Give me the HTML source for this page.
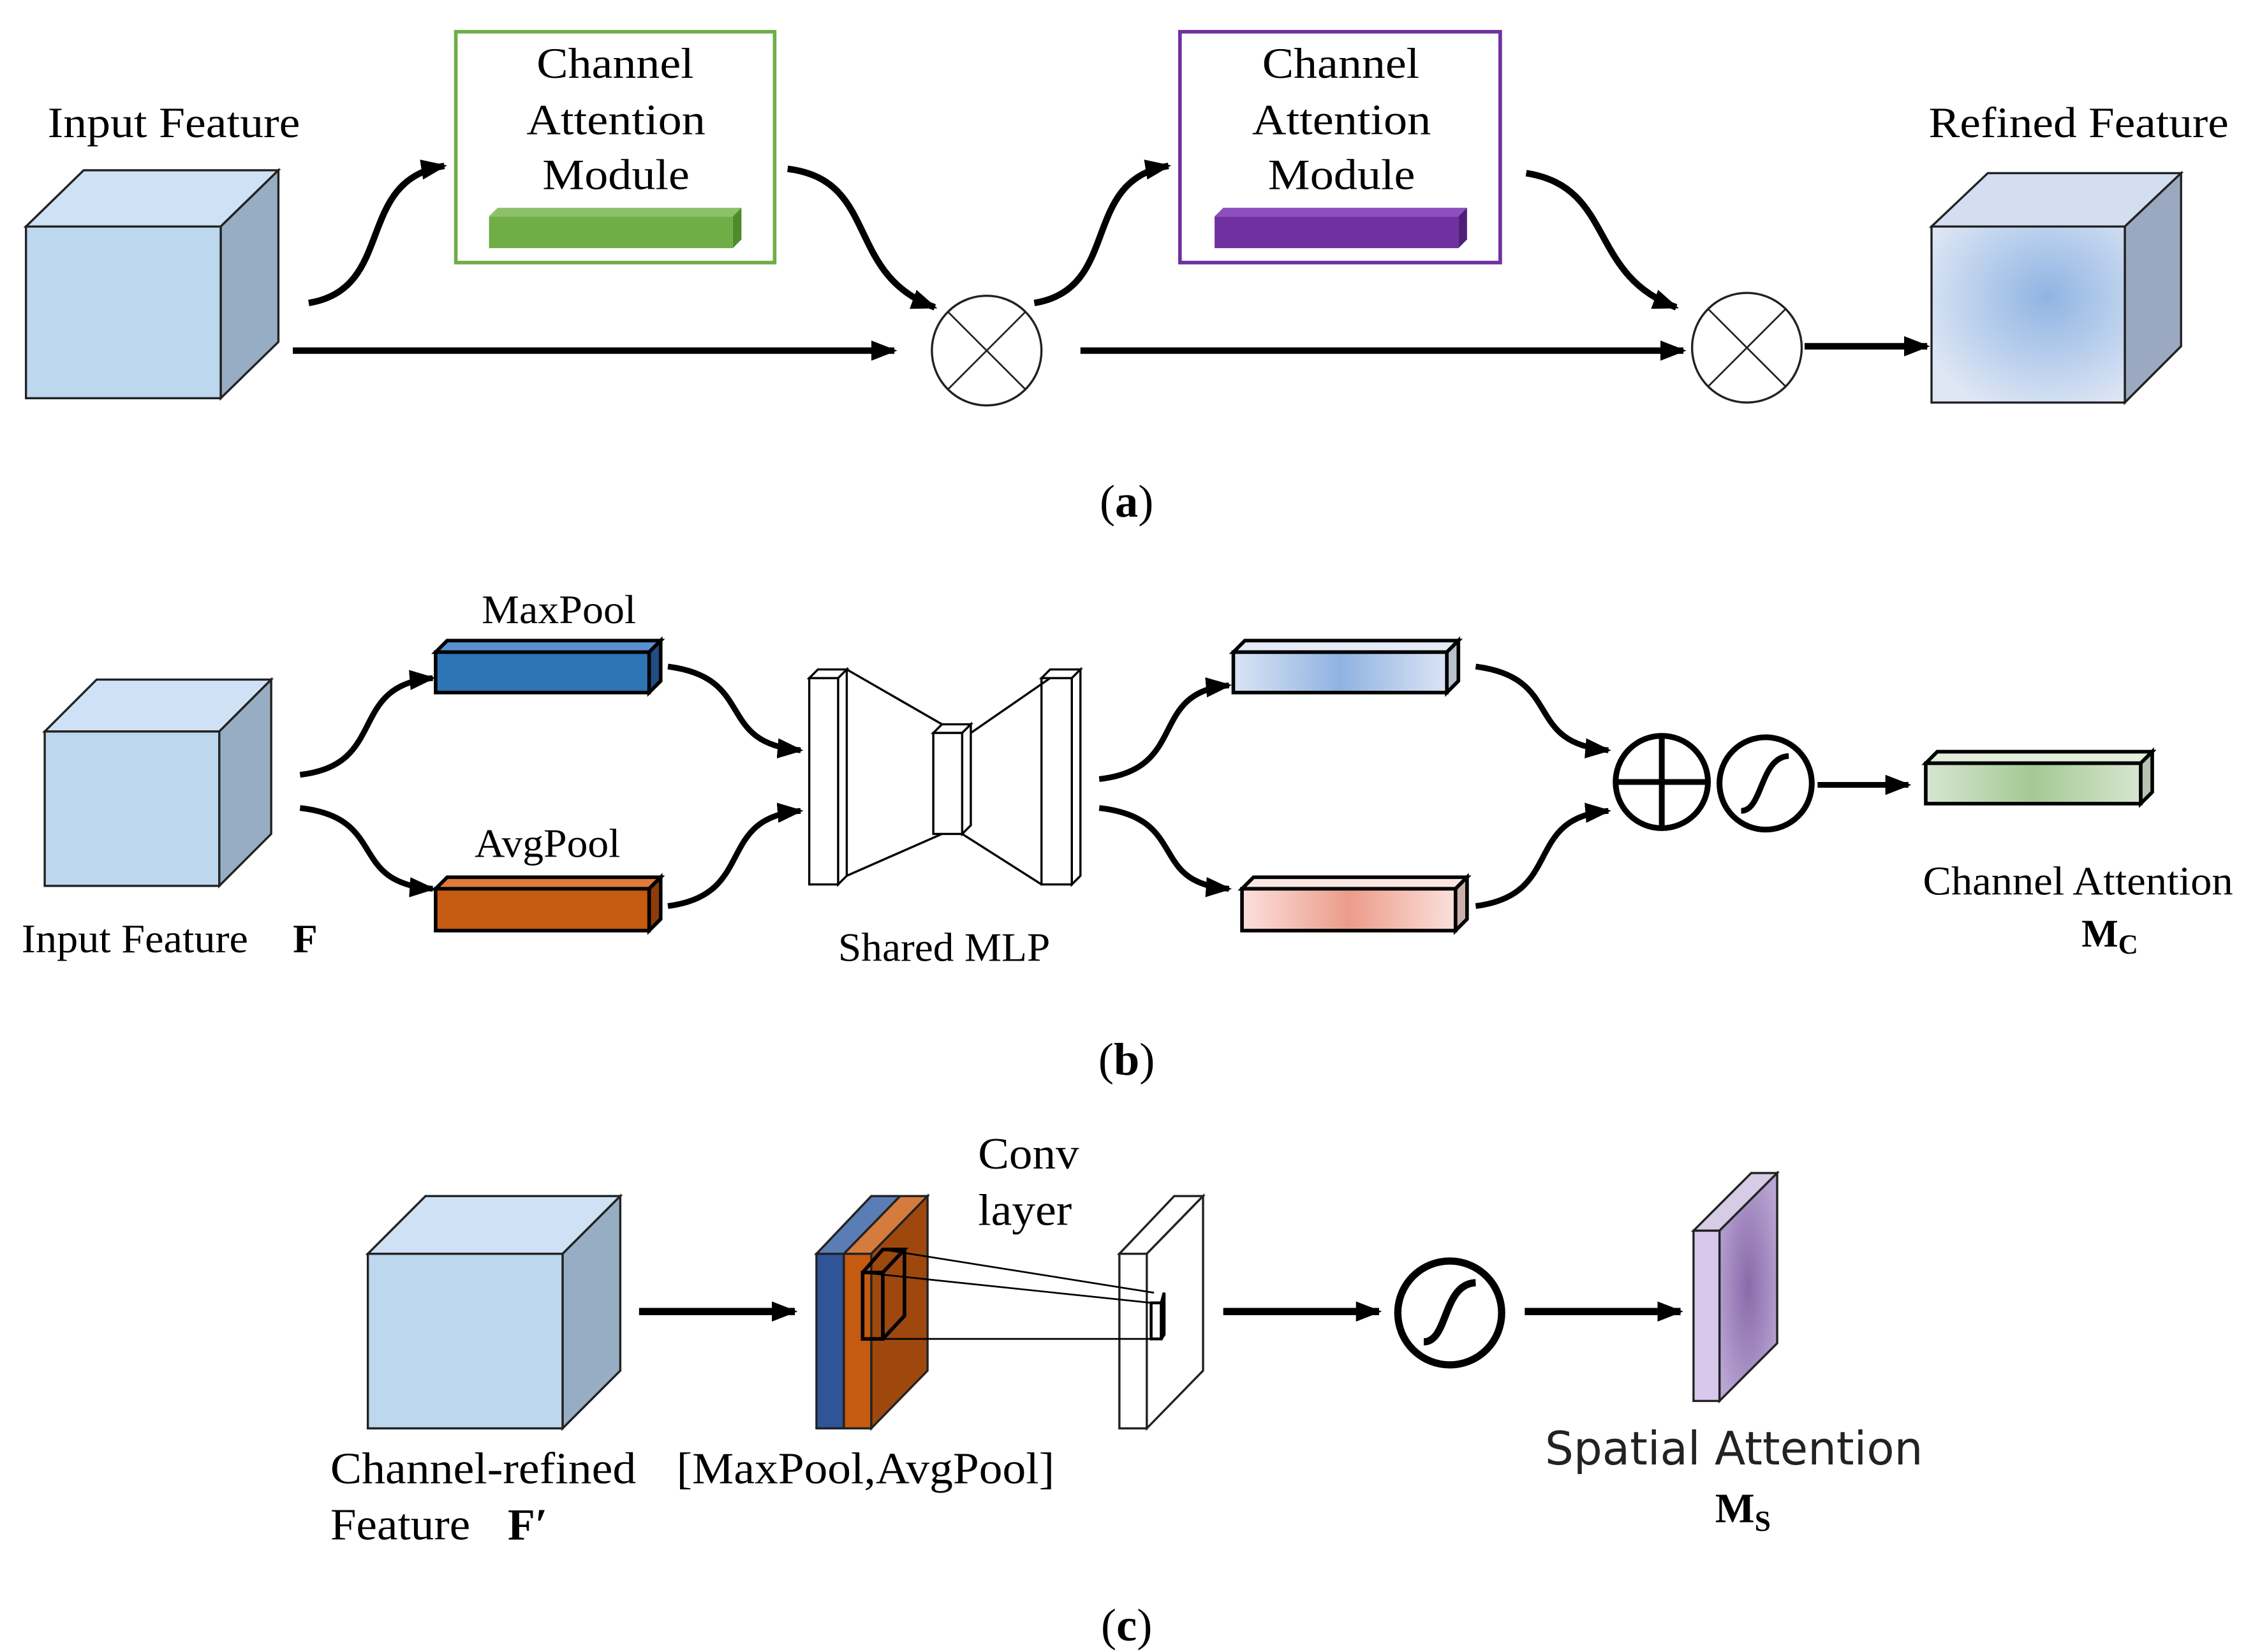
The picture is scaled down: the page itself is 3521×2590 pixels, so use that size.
<!DOCTYPE html>
<html><head><style>html,body{margin:0;padding:0;background:#fff;}svg{display:block}</style></head>
<body>
<svg width="3521" height="2590" viewBox="0 0 1557 1145" preserveAspectRatio="none" xmlns="http://www.w3.org/2000/svg" font-family="'Liberation Serif',serif">
<defs>
<marker id="ah" markerWidth="18" markerHeight="14" refX="16" refY="7" orient="auto" markerUnits="userSpaceOnUse"><path d="M0,0 L18,7 L0,14 Z" fill="#000"/></marker>
<radialGradient id="rf" cx="0.6" cy="0.4" r="0.7"><stop offset="0" stop-color="#8fb4e3"/><stop offset="1" stop-color="#dfe7f5"/></radialGradient>
<linearGradient id="gb" x1="0" x2="1"><stop offset="0" stop-color="#dbe4f4"/><stop offset="0.5" stop-color="#8fb2e2"/><stop offset="1" stop-color="#dbe4f4"/></linearGradient>
<linearGradient id="gp" x1="0" x2="1"><stop offset="0" stop-color="#fbe0dc"/><stop offset="0.5" stop-color="#ec9c8a"/><stop offset="1" stop-color="#fbe0dc"/></linearGradient>
<linearGradient id="gg" x1="0" x2="1"><stop offset="0" stop-color="#d6e6d0"/><stop offset="0.5" stop-color="#a4c994"/><stop offset="1" stop-color="#d6e6d0"/></linearGradient>
<radialGradient id="gv" cx="0.5" cy="0.5" r="0.6"><stop offset="0" stop-color="#8a6aaa"/><stop offset="1" stop-color="#b9a5d3"/></radialGradient>
</defs>
<g stroke="#222" stroke-width="1.5">
<polygon points="18,157 58,118 193,118 153,157" fill="#cfe1f4"/>
<polygon points="153,157 193,118 193,237 153,276" fill="#97adc3"/>
<rect x="18" y="157" width="135" height="119" fill="#bdd7ee"/>
<polygon points="1339,157 1378,120 1512,120 1473,157" fill="#d3def1"/>
<polygon points="1473,157 1512,120 1512,240 1473,279" fill="#9aa9c0"/>
<rect x="1339" y="157" width="134" height="122" fill="url(#rf)"/>
</g>
<g lengthAdjust="spacingAndGlyphs">
<text x="33" y="95" font-size="30" textLength="175" lengthAdjust="spacingAndGlyphs">Input Feature</text>
<text x="1337" y="95" font-size="30" textLength="208" lengthAdjust="spacingAndGlyphs">Refined Feature</text>
</g>
<rect x="316" y="22" width="221" height="160" fill="none" stroke="#70ad47" stroke-width="2.5"/>
<rect x="818" y="22" width="222" height="160" fill="none" stroke="#7030a0" stroke-width="2.5"/>
<g font-size="30">
<text x="372" y="54" textLength="109" lengthAdjust="spacingAndGlyphs">Channel</text><text x="365" y="93" textLength="124" lengthAdjust="spacingAndGlyphs">Attention</text><text x="376" y="131" textLength="102" lengthAdjust="spacingAndGlyphs">Module</text>
<text x="875" y="54" textLength="109" lengthAdjust="spacingAndGlyphs">Channel</text><text x="868" y="93" textLength="124" lengthAdjust="spacingAndGlyphs">Attention</text><text x="879" y="131" textLength="102" lengthAdjust="spacingAndGlyphs">Module</text></g>
<polygon points="339,150 345,144 514,144 508,150" fill="#8cc16a"/><polygon points="508,150 514,144 514,166 508,172" fill="#4f8a2d"/><rect x="339" y="150" width="169" height="22" fill="#70ad47"/>
<polygon points="842,150 848,144 1017,144 1011,150" fill="#8d4fbd"/><polygon points="1011,150 1017,144 1017,166 1011,172" fill="#4f1f78"/><rect x="842" y="150" width="169" height="22" fill="#7030a0"/>
<g fill="#fff" stroke="#222" stroke-width="1.5">
<circle cx="684" cy="243" r="38"/><circle cx="1211" cy="241" r="38"/></g>
<g stroke="#222" stroke-width="1.2"><path d="M657,216 L711,270 M711,216 L657,270"/><path d="M1184,214 L1238,268 M1238,214 L1184,268"/></g>
<g stroke="#000" stroke-width="4.5" fill="none" marker-end="url(#ah)">
<path d="M203,243 L620,243"/><path d="M749,243 L1167,243"/><path d="M1251,240 L1336,240"/>
<path d="M214,210 C275,200 245,125 308,115"/>
<path d="M546,117 C610,125 585,190 648,213"/>
<path d="M717,210 C778,200 748,125 810,115"/>
<path d="M1058,120 C1120,130 1100,190 1162,213"/>
</g>
<text x="781" y="358" font-size="32" text-anchor="middle">(<tspan font-weight="bold">a</tspan>)</text>

<!-- (b) -->
<g stroke="#222" stroke-width="1.5">
<polygon points="31,507 67,471 188,471 152,507" fill="#cfe1f4"/>
<polygon points="152,507 188,471 188,578 152,614" fill="#97adc3"/>
<rect x="31" y="507" width="121" height="107" fill="#bdd7ee"/>
</g>
<text x="15" y="660" font-size="28" textLength="157" lengthAdjust="spacingAndGlyphs">Input Feature</text><text x="203" y="660" font-size="28" font-weight="bold">F</text>
<g stroke="#000" stroke-width="2.5">
<polygon points="302,452 310,444 458,444 450,452" fill="#5b8fd0"/><polygon points="450,452 458,444 458,472 450,480" fill="#1f4e85"/><rect x="302" y="452" width="148" height="28" fill="#2e75b6"/>
<polygon points="302,616 310,608 458,608 450,616" fill="#df7a3a"/><polygon points="450,616 458,608 458,637 450,645" fill="#8e3d0a"/><rect x="302" y="616" width="148" height="29" fill="#c55a11"/>
<polygon points="855,452 863,444 1011,444 1003,452" fill="#e4eaf6"/><polygon points="1003,452 1011,444 1011,472 1003,480" fill="#b8c0cc"/><rect x="855" y="452" width="148" height="28" fill="url(#gb)"/>
<polygon points="861,616 869,608 1017,608 1009,616" fill="#fbe6e2"/><polygon points="1009,616 1017,608 1017,637 1009,645" fill="#c9b0aa"/><rect x="861" y="616" width="148" height="29" fill="url(#gp)"/>
<polygon points="1335,529 1343,521 1492,521 1484,529" fill="#e3eedd"/><polygon points="1484,529 1492,521 1492,549 1484,557" fill="#b8c4b3"/><rect x="1335" y="529" width="149" height="28" fill="url(#gg)"/>
</g>
<text x="334" y="432" font-size="28" textLength="107" lengthAdjust="spacingAndGlyphs">MaxPool</text>
<text x="329" y="594" font-size="28" textLength="101" lengthAdjust="spacingAndGlyphs">AvgPool</text>
<g stroke="#000" stroke-width="1.5" fill="#fff">
<polygon points="561,470 567,464 587,464 581,470" /><polygon points="581,470 587,464 587,607 581,613"/><rect x="561" y="470" width="20" height="143"/>
<polygon points="647,508 653,502 673,502 667,508"/><polygon points="667,508 673,502 673,572 667,578"/><rect x="647" y="508" width="20" height="70"/>
<polygon points="722,470 728,464 749,464 743,470"/><polygon points="743,470 749,464 749,607 743,613"/><rect x="722" y="470" width="21" height="143"/>
<path d="M587,464 L653,502 M587,607 L653,578 M673,508 L728,470 M667,578 L722,613" fill="none"/>
</g>
<text x="581" y="666" font-size="28" textLength="147" lengthAdjust="spacingAndGlyphs">Shared MLP</text>
<g stroke="#000" stroke-width="4" fill="none" marker-end="url(#ah)">
<path d="M208,537 C270,530 240,475 300,470"/>
<path d="M208,560 C270,567 240,612 300,616"/>
<path d="M463,462 C525,470 495,515 555,520"/>
<path d="M463,628 C525,620 495,567 555,562"/>
<path d="M762,540 C825,533 795,480 852,475"/>
<path d="M762,560 C825,567 795,612 852,616"/>
<path d="M1023,462 C1085,470 1055,515 1115,520"/>
<path d="M1023,628 C1085,620 1055,567 1115,562"/>
<path d="M1260,544 L1323,544"/>
</g>
<g stroke="#000" stroke-width="4" fill="none">
<circle cx="1152" cy="542" r="32"/><path d="M1120,542 L1184,542 M1152,510 L1152,574"/>
<circle cx="1224" cy="543" r="32"/><path d="M1207,562 C1222,562 1220,525 1240,524"/>
</g>
<text x="1333" y="620" font-size="28" textLength="215" lengthAdjust="spacingAndGlyphs">Channel Attention</text>
<text x="1443" y="656" font-size="27" font-weight="bold">M<tspan font-size="19" dy="5">C</tspan></text>
<text x="781" y="745" font-size="32" text-anchor="middle">(<tspan font-weight="bold">b</tspan>)</text>

<!-- (c) -->
<g stroke="#222" stroke-width="1.5">
<polygon points="255,869 295,829 430,829 390,869" fill="#cfe1f4"/>
<polygon points="390,869 430,829 430,950 390,990" fill="#97adc3"/>
<rect x="255" y="869" width="135" height="121" fill="#bdd7ee"/>
<polygon points="566,869 604,829 624,829 585,869" fill="#5a7db5"/>
<rect x="566" y="869" width="19" height="121" fill="#2f5597"/>
<polygon points="585,869 624,829 643,829 604,869" fill="#d67b3e"/>
<polygon points="604,869 643,829 643,950 604,990" fill="#9e480e"/>
<rect x="585" y="869" width="19" height="121" fill="#c55a11"/>
<polygon points="776,869 814,829 834,829 795,869" fill="#fff"/>
<polygon points="795,869 834,829 834,950 795,990" fill="#fff"/>
<rect x="776" y="869" width="19" height="121" fill="#fff"/>
<polygon points="1174,853 1192,853 1232,813 1214,813" fill="#d6cce6"/>
<polygon points="1192,853 1232,813 1232,931 1192,971" fill="url(#gv)"/>
<rect x="1174" y="853" width="18" height="118" fill="#d8c9ec"/>
</g>
<g stroke="#000" fill="none">
<path d="M598,882 L612,882 L612,928 L598,928 Z M598,882 L612,866 L627,866 L612,882 M627,866 L627,912 L612,928" stroke-width="2.5"/>
<path d="M612,866 L800,896 M598,882 L798,903 M598,928 L802,928" stroke-width="1.2"/>
<path d="M798,903 L805,903 L805,928 L798,928 Z M805,903 L807,896 L807,925 L805,928" stroke-width="2"/>
</g>
<text x="678" y="810" font-size="31" textLength="70" lengthAdjust="spacingAndGlyphs">Conv</text>
<text x="678" y="849" font-size="31" textLength="65" lengthAdjust="spacingAndGlyphs">layer</text>
<text x="229" y="1028" font-size="31" textLength="212" lengthAdjust="spacingAndGlyphs">Channel-refined</text>
<text x="229" y="1067" font-size="31" textLength="97" lengthAdjust="spacingAndGlyphs">Feature</text><text x="352" y="1067" font-size="31" font-weight="bold">F′</text>
<text x="469" y="1028" font-size="31" textLength="262" lengthAdjust="spacingAndGlyphs">[MaxPool,AvgPool]</text>
<g stroke="#000" stroke-width="5" fill="none" marker-end="url(#ah)">
<path d="M443,909 L551,909"/><path d="M848,909 L956,909"/><path d="M1057,909 L1165,909"/>
</g>
<g stroke="#000" stroke-width="5" fill="none"><circle cx="1005" cy="910" r="36"/><path d="M987,930 C1004,930 1000,890 1023,889"/></g>
<text x="1071" y="1015" font-size="32" font-family="'DejaVu Sans',sans-serif" fill="#222" textLength="262" lengthAdjust="spacingAndGlyphs">Spatial Attention</text>
<text x="1189" y="1055" font-size="29" font-weight="bold">M<tspan font-size="20" dy="6">S</tspan></text>
<text x="781" y="1137" font-size="32" text-anchor="middle">(<tspan font-weight="bold">c</tspan>)</text>
</svg>
</body></html>
